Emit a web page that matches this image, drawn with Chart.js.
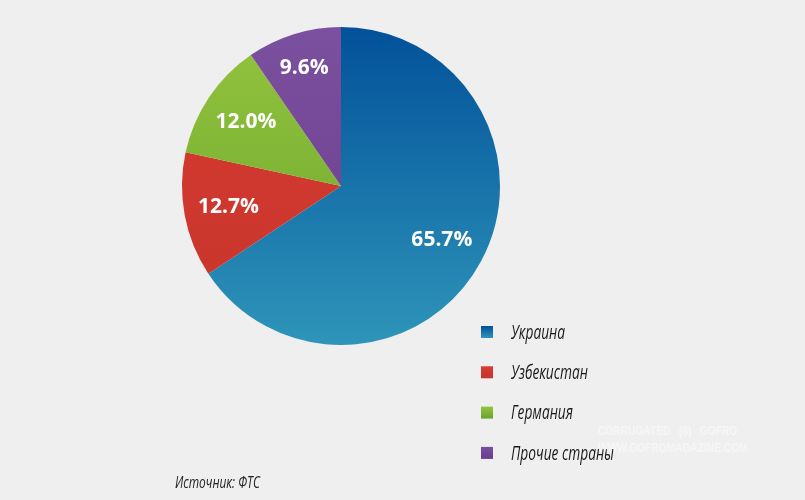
<!DOCTYPE html>
<html>
<head>
<meta charset="utf-8">
<script src="https://cdn.jsdelivr.net/npm/chart.js@4"></script>
<style>
  html, body { margin: 0; padding: 0; background: #efefef; }
  #wrap { position: relative; width: 805px; height: 500px; }
  #source { position: absolute; left: 175px; top: 470px; font: italic 17px "Open Sans", sans-serif; color: #222; transform: scaleX(0.7); transform-origin: left top; white-space: nowrap; }
  #wm { position: absolute; left: 598px; top: 423px; font: bold 12px "Liberation Sans", sans-serif; color: rgba(255,255,255,0.45); line-height: 17px; transform: scaleX(0.85); transform-origin: left top; white-space: nowrap; }
</style>
</head>
<body>
<div id="wrap">
  <canvas id="pie" width="805" height="500"></canvas>
  <div id="source">Источник: ФТС</div>
  <div id="wm">CORRUGATED &nbsp;&nbsp;(8)&nbsp;&nbsp; GOFRO<br>WWW.GOFROMAGAZINE.COM</div>
</div>
<script>
const countries = ['Украина', 'Узбекистан', 'Германия', 'Прочие страны'];
const shares = [65.7, 12.7, 12.0, 9.6];
const topColors = ['#02519a', '#d83b31', '#94c43f', '#7b509e'];
const bottomColors = ['#2e95b9', '#c6352b', '#68a32a', '#6b3c8c'];

function sliceFill(ctx) {
  const area = ctx.chart.chartArea;
  if (!area) return topColors[ctx.dataIndex];
  const g = ctx.chart.ctx.createLinearGradient(0, area.top, 0, area.bottom);
  g.addColorStop(0, topColors[ctx.dataIndex]);
  g.addColorStop(1, bottomColors[ctx.dataIndex]);
  return g;
}

// percent labels inside the slices
const sliceLabels = {
  id: 'sliceLabels',
  afterDatasetsDraw(chart) {
    const c = chart.ctx;
    const meta = chart.getDatasetMeta(0);
    c.save();
    c.font = 'bold 21px "Open Sans", sans-serif';
    c.fillStyle = '#ffffff';
    c.textAlign = 'center';
    c.textBaseline = 'middle';
    meta.data.forEach((arc, i) => {
      const p = arc.getProps(['x', 'y', 'startAngle', 'endAngle', 'outerRadius']);
      const mid = (p.startAngle + p.endAngle) / 2;
      const r = p.outerRadius * (i === 3 ? 0.78 : 0.72);
      c.fillText(shares[i].toFixed(1) + '%', p.x + Math.cos(mid) * r, p.y + Math.sin(mid) * r);
    });
    c.restore();
  }
};

// legend at the lower right, text squeezed to look condensed
const sideLegend = {
  id: 'sideLegend',
  afterDraw(chart) {
    const c = chart.ctx;
    c.save();
    c.font = 'italic 20px "Open Sans", sans-serif';
    c.textBaseline = 'middle';
    const squeeze = 103 / c.measureText('Прочие страны').width;
    countries.forEach((name, i) => {
      const y = 332 + i * 40.3;
      const g = c.createLinearGradient(0, y - 6, 0, y + 6);
      g.addColorStop(0, topColors[i]);
      g.addColorStop(1, bottomColors[i]);
      c.fillStyle = g;
      c.fillRect(481, y - 6, 12, 12);
      c.save();
      c.translate(511, y + 1);
      c.scale(squeeze, 1);
      c.fillStyle = '#1a1a1a';
      c.fillText(name, 0, 0);
      c.restore();
    });
    c.restore();
  }
};

new Chart(document.getElementById('pie'), {
  type: 'pie',
  data: {
    labels: countries,
    datasets: [{
      data: shares,
      backgroundColor: sliceFill,
      borderWidth: 0
    }]
  },
  options: {
    responsive: false,
    animation: false,
    layout: { padding: { left: 182, right: 305, top: 27, bottom: 155 } },
    plugins: { legend: { display: false }, tooltip: { enabled: false } }
  },
  plugins: [sliceLabels, sideLegend]
});
</script>
</body>
</html>
